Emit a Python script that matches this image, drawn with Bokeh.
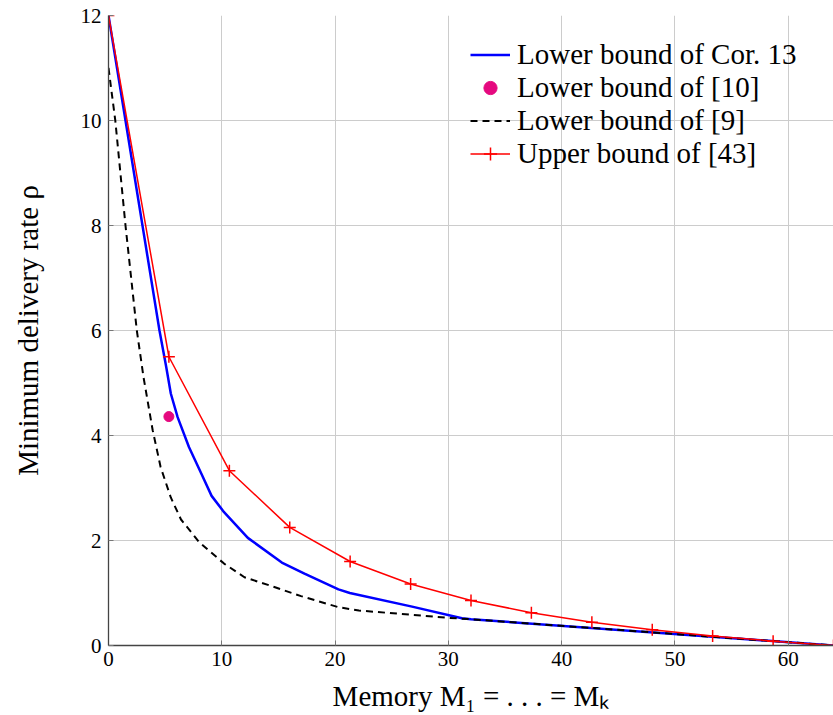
from bokeh.plotting import figure
from bokeh.models import Legend, LegendItem, Range1d, FixedTicker
from bokeh.embed import file_html
from bokeh.resources import INLINE

# Lower bound of Cor. 13 (blue)
cor_x = [0, 4.5, 5.1, 5.5, 6.1, 7.1, 8.2, 9.1, 10.2, 12.3, 15.3, 17.3, 20.3, 21.3, 26.8, 31.2, 32, 64]
cor_y = [12, 6.0, 5.3, 4.8, 4.35, 3.78, 3.27, 2.85, 2.54, 2.05, 1.58, 1.37, 1.07, 1.0, 0.74, 0.52, 0.5, 0]

# Lower bound of [10] (single point)
pt_x = [5.33]
pt_y = [4.36]

# Lower bound of [9] (black dashed)
lb9_x = [0, 0.6, 1.5, 2.5, 3.1, 3.9, 4.6, 5.5, 6.4, 8.0, 10.2, 12.0, 14.7, 17.0, 20.3, 22.1, 30, 32, 64]
lb9_y = [11, 10, 8, 6, 5.1, 4.1, 3.4, 2.82, 2.4, 1.97, 1.56, 1.30, 1.11, 0.94, 0.73, 0.667, 0.527, 0.5, 0]

# Upper bound of [43] (red with + markers)
ub_x = [0, 5.33, 10.67, 16, 21.33, 26.67, 32, 37.33, 42.67, 48, 53.33, 58.67, 64]
ub_y = [12, 5.5, 3.33, 2.25, 1.6, 1.17, 0.857, 0.625, 0.444, 0.3, 0.182, 0.083, 0]

x_ticks = [0, 10, 20, 30, 40, 50, 60]
y_ticks = [0, 2, 4, 6, 8, 10, 12]

FONT = "'Liberation Serif'"

p = figure(width=833, height=714, output_backend="svg", toolbar_location=None,
           x_range=Range1d(0, 64), y_range=Range1d(0, 12),
           min_border_left=108, min_border_top=15, min_border_right=0, min_border_bottom=65)
p.outline_line_color = None
p.background_fill_color = "white"

for ax in (p.xaxis[0], p.yaxis[0]):
    ax.major_tick_in = 5
    ax.major_tick_out = 0
    ax.minor_tick_line_color = None
    ax.axis_line_color = "#444444"
    ax.axis_line_width = 1.3
    ax.major_tick_line_color = "#777777"
    ax.major_label_text_font = FONT
    ax.major_label_text_font_size = "21px"
    ax.major_label_text_color = "black"
    ax.axis_label_text_font = FONT
    ax.axis_label_text_font_size = "29px"
    ax.axis_label_text_font_style = "normal"
    ax.axis_label_text_color = "black"

p.xaxis.ticker = FixedTicker(ticks=x_ticks)
p.yaxis.ticker = FixedTicker(ticks=y_ticks)
p.xaxis.major_label_standoff = 6
p.yaxis.major_label_standoff = 7
p.xaxis.axis_label = "Memory M\u2081 = . . . = M\u2096"
p.yaxis.axis_label = "Minimum delivery rate \u03c1"
p.xaxis.axis_label_standoff = 11
p.yaxis.axis_label_standoff = 34

p.xgrid.ticker = FixedTicker(ticks=x_ticks)
p.ygrid.ticker = FixedTicker(ticks=y_ticks)
p.grid.grid_line_color = "#cccccc"
p.grid.grid_line_width = 1

r_blue = p.line(cor_x, cor_y, line_color="blue", line_width=2.5)
r_black = p.line(lb9_x, lb9_y, line_color="black", line_width=2, line_dash="7 5")
r_red = p.line(ub_x, ub_y, line_color="red", line_width=1.5)
r_redm = p.scatter(ub_x, ub_y, marker="cross", size=12, line_color="red", line_width=1.5)
r_pt = p.scatter(pt_x, pt_y, marker="circle", size=10, fill_color="#E5097F", line_color="#E5097F")

legend = Legend(items=[
    LegendItem(label="Lower bound of Cor. 13", renderers=[r_blue]),
    LegendItem(label="Lower bound of [10]", renderers=[r_pt]),
    LegendItem(label="Lower bound of [9]", renderers=[r_black]),
    LegendItem(label="Upper bound of [43]", renderers=[r_red, r_redm]),
], location=(362, 475))
legend.background_fill_alpha = 0
legend.border_line_color = None
legend.label_text_font = FONT
legend.label_text_font_size = "29px"
legend.label_text_color = "black"
legend.glyph_width = 40
legend.glyph_height = 33
legend.label_height = 33
legend.spacing = 0
legend.padding = 0
legend.margin = 0
legend.label_standoff = 7
p.add_layout(legend, "center")

open("out.html", "w").write(file_html(p, INLINE))
